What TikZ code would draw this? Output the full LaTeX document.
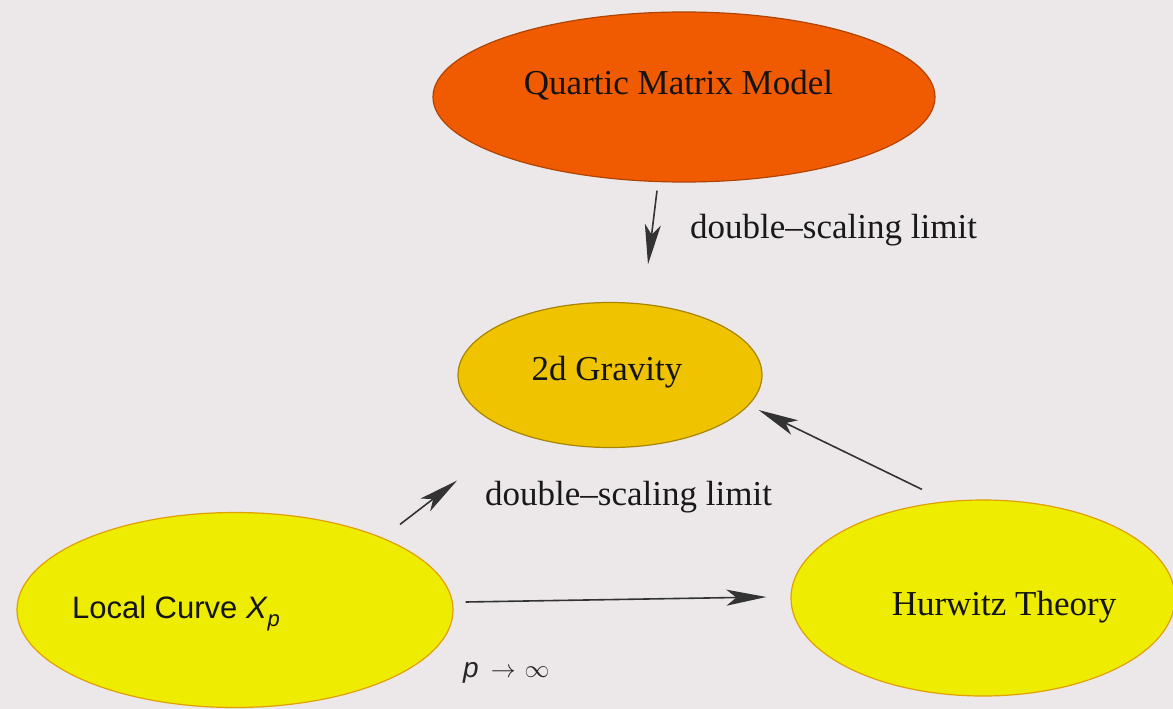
\documentclass[tikz,border=0pt]{standalone}
\usepackage{fontspec}
\setmainfont{Liberation Serif}
\setsansfont{Liberation Sans}
\usetikzlibrary{shapes.geometric,arrows.meta}
\definecolor{bg}{HTML}{ECE8EA}
\definecolor{qmmfill}{HTML}{F05A00}
\definecolor{qmmline}{HTML}{B04400}
\definecolor{gravfill}{HTML}{F0C300}
\definecolor{gravline}{HTML}{A88400}
\definecolor{yelfill}{HTML}{EEEC00}
\definecolor{yelline}{HTML}{E0A000}
\newcommand\placetext[3]{\makebox[0pt]{\hspace*{#1}\raisebox{#2}[0pt][0pt]{#3}}}
\begin{document}
\begin{tikzpicture}[x=1pt,y=-1pt,
  blob/.style={ellipse, inner sep=0pt, line width=1.2pt, text=black!92,
    font=\fontsize{35}{40}\selectfont},
  arr/.style={line width=1.6pt, draw=black!80,
    -{Stealth[length=40pt,width=16pt,inset=10pt]}},
  lbl/.style={anchor=base west, inner sep=0pt, text=black!90,
    font=\fontsize{35}{40}\selectfont},
  sanslbl/.style={anchor=base west, inner sep=0pt, text=black!85,
    font=\sffamily\fontsize{28}{32}\selectfont}]
\fill[bg] (0,0) rectangle (1173,709);
\useasboundingbox (0,0) rectangle (1173,709);

\node[blob, fill=qmmfill, draw=qmmline, minimum width=502pt, minimum height=170pt]
  (qmm) at (684,97) {\placetext{-11pt}{2.5pt}{Quartic Matrix Model}};
\node[blob, fill=gravfill, draw=gravline, minimum width=304pt, minimum height=145pt]
  (grav) at (610,375) {\placetext{-6pt}{-5.5pt}{2d Gravity}};
\node[blob, fill=yelfill, draw=yelline, minimum width=436pt, minimum height=195pt,
  font=\sffamily\fontsize{31}{36}\selectfont]
  (local) at (235,610) {\placetext{-118pt}{-8pt}{Local Curve \textit{X}\raisebox{-0.28em}{\fontsize{22}{24}\selectfont\itshape p}}};
\node[blob, fill=yelfill, draw=yelline, minimum width=384pt, minimum height=196pt]
  (hur) at (983,598) {\placetext{42pt}{-17.5pt}{Hurwitz Theory}};

\node[lbl] (l1) at (690,238) {double\textendash scaling limit};
\node[lbl] (l2) at (485,505) {double\textendash scaling limit};
\node[sanslbl] (l3) at (463,677) {\textit{p}\hspace{12pt}$\rightarrow$\hspace{9pt}$\infty$};

\draw[arr] ([shift={(-27,8)}]qmm.south) -- ([shift={(38,-37.5)}]grav.north);
\draw[arr] ([shift={(165,12.5)}]local.north) -- ([shift={(-153,32.5)}]grav.south);
\draw[arr] ([shift={(-61,-10)}]hur.north) -- ([shift={(-4,35)}]grav.east);
\draw[arr] ([shift={(12,-8)}]local.east) -- ([shift={(-24,-1)}]hur.west);
\end{tikzpicture}
\end{document}
